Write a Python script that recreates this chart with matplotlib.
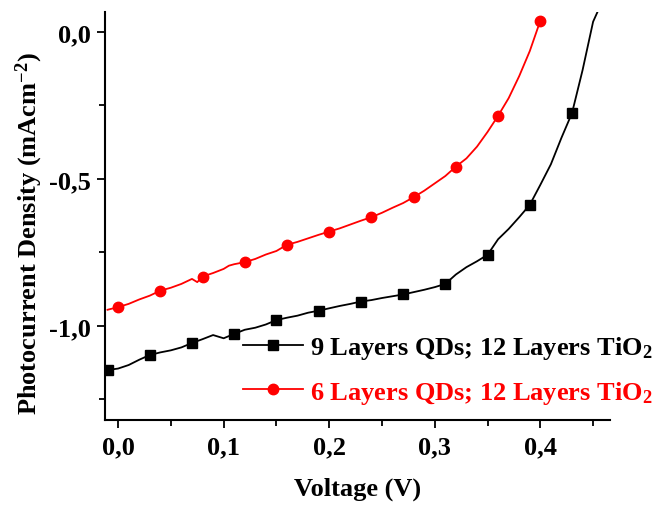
import matplotlib
matplotlib.use("Agg")
import matplotlib.pyplot as plt

plt.rcParams['font.family'] = ['Liberation Serif']
plt.rcParams['font.weight'] = 'bold'
plt.rcParams['mathtext.fontset'] = 'custom'
plt.rcParams['mathtext.rm'] = 'Liberation Serif:bold'
plt.rcParams['mathtext.it'] = 'Liberation Serif:bold'
plt.rcParams['mathtext.bf'] = 'Liberation Serif:bold'

# 9 layers QDs (black)
v9 = [-0.01, 0.00, 0.01, 0.02, 0.03, 0.04, 0.05, 0.06, 0.07, 0.08, 0.09, 0.10,
      0.11, 0.12, 0.13, 0.14, 0.15, 0.16, 0.17, 0.18, 0.19, 0.20, 0.21, 0.22,
      0.23, 0.24, 0.25, 0.26, 0.27, 0.28, 0.29, 0.30, 0.31, 0.32, 0.33, 0.34,
      0.35, 0.36, 0.37, 0.38, 0.39, 0.40, 0.41, 0.42, 0.43, 0.44, 0.45, 0.455]
j9 = [-1.150, -1.145, -1.133, -1.115, -1.099, -1.090, -1.083, -1.073, -1.058, -1.045, -1.031, -1.042,
      -1.027, -1.013, -1.006, -0.995, -0.980, -0.972, -0.965, -0.955, -0.948, -0.940, -0.932, -0.925,
      -0.917, -0.912, -0.905, -0.899, -0.893, -0.885, -0.877, -0.868, -0.857, -0.825, -0.800, -0.780,
      -0.758, -0.705, -0.670, -0.630, -0.588, -0.520, -0.450, -0.360, -0.276, -0.130, 0.035, 0.075]

# 6 layers QDs (red)
v6 = [-0.01, 0.00, 0.01, 0.02, 0.03, 0.04, 0.05, 0.06, 0.07, 0.075, 0.08, 0.09, 0.10,
      0.105, 0.11, 0.12, 0.13, 0.14, 0.15, 0.16, 0.17, 0.18, 0.19, 0.20, 0.21, 0.22,
      0.23, 0.24, 0.25, 0.26, 0.27, 0.28, 0.29, 0.30, 0.31, 0.32, 0.33, 0.34,
      0.35, 0.36, 0.37, 0.38, 0.39, 0.40]
j6 = [-0.945, -0.936, -0.925, -0.910, -0.897, -0.880, -0.870, -0.857, -0.840, -0.851, -0.832, -0.820, -0.806,
      -0.795, -0.790, -0.783, -0.772, -0.757, -0.745, -0.724, -0.714, -0.702, -0.690, -0.679, -0.668, -0.655,
      -0.642, -0.630, -0.615, -0.598, -0.582, -0.562, -0.540, -0.515, -0.490, -0.458, -0.430, -0.390,
      -0.340, -0.285, -0.225, -0.150, -0.065, 0.0385]
marks6 = [1, 5, 10, 15, 19, 23, 27, 31, 35, 39, 43]

label9 = '9 Layers QDs; 12 Layers TiO$_\\mathregular{2}$'
label6 = '6 Layers QDs; 12 Layers TiO$_\\mathregular{2}$'

xticks = [0.0, 0.1, 0.2, 0.3, 0.4]
xticklabels = ['0,0', '0,1', '0,2', '0,3', '0,4']
yticks = [0.0, -0.5, -1.0]
yticklabels = ['0,0', '-0,5', '-1,0']

FS = 19

fig = plt.figure(figsize=(6.58, 5.06), dpi=100)
ax = fig.add_axes([105/658, 1-421/506, 505/658, 408/506])

ax.plot(v9, j9, color='black', lw=1.3, marker='s', ms=6.5, markevery=(0, 4), label=label9)
ax.plot(v6, j6, color='red', lw=1.3, marker='o', ms=7.5, markevery=marks6, label=label6)

ax.set_xlim(-0.0124, 0.466)
ax.set_ylim(-1.32, 0.068)

for s in ['top', 'right']:
    ax.spines[s].set_visible(False)
for s in ['left', 'bottom']:
    ax.spines[s].set_linewidth(1.5)

ax.set_xticks(xticks)
ax.set_xticklabels(xticklabels)
ax.set_yticks(yticks)
ax.set_yticklabels(yticklabels)
ax.set_xticks([0.05, 0.15, 0.25, 0.35, 0.45], minor=True)
ax.set_yticks([-0.25, -0.75, -1.25], minor=True)
ax.tick_params(which='major', direction='out', length=6, width=1.3, labelsize=FS)
ax.tick_params(axis='x', which='major', pad=5)
ax.tick_params(axis='y', which='major', pad=4)
ax.tick_params(which='minor', direction='out', length=4, width=1.3)
for t in ax.get_xticklabels() + ax.get_yticklabels():
    t.set_fontweight('bold')

ax.set_xlabel('Voltage (V)', fontsize=FS, fontweight='bold')
ax.set_ylabel('Photocurrent Density (mAcm$^{-2}$)', fontsize=FS, fontweight='bold')
ax.xaxis.set_label_coords(0.5, -(478 - 421) / 408)
ax.yaxis.set_label_coords((45 - 105) / 505, 0.5 - 17 / 408)

leg = ax.legend(loc='center left', frameon=False, fontsize=FS, numpoints=1,
                handlelength=2.27, handletextpad=0.27, labelspacing=0.66,
                borderaxespad=0, borderpad=0)
leg.set_bbox_to_anchor(((243 - 105) / 505, (421 - 371) / 408), transform=ax.transAxes)
for txt, c in zip(leg.get_texts(), ['black', 'red']):
    txt.set_color(c)
    txt.set_fontweight('bold')

fig.savefig('out.png', dpi=100)
